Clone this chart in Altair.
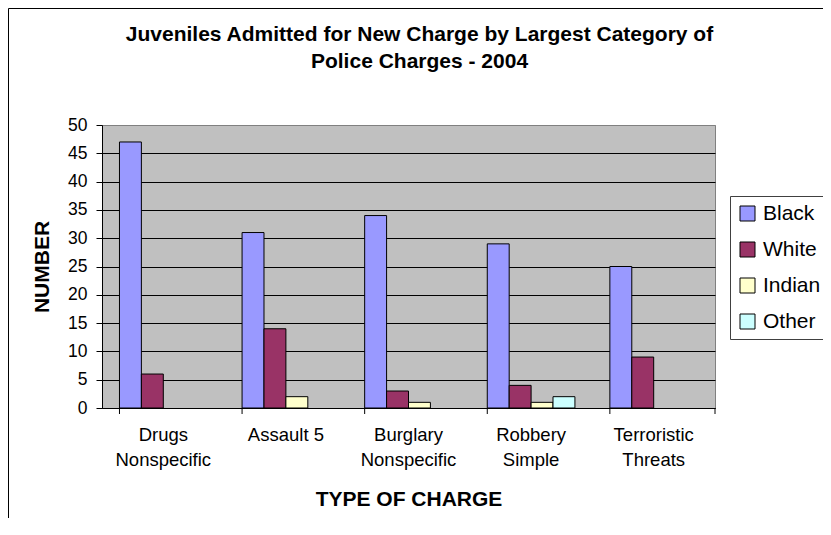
import altair as alt
import pandas as pd

categories = ["Drugs\nNonspecific", "Assault 5", "Burglary\nNonspecific", "Robbery\nSimple", "Terroristic\nThreats"]
races = ["Black", "White", "Indian", "Other"]
black = [47, 31, 34, 29, 25]
white = [6, 14, 3, 4, 9]
indian = [0, 2, 1, 1, 0]
other = [0, 0, 0, 2, 0]
colors = ["#9999FF", "#993366", "#FFFFCC", "#CCFFFF"]
y_ticks = [0, 5, 10, 15, 20, 25, 30, 35, 40, 45, 50]

rows = []
for i, c in enumerate(categories):
    for r, vals in zip(races, [black, white, indian, other]):
        rows.append({"charge": c, "race": r, "count": vals[i]})
df = pd.DataFrame(rows)
cat_df = pd.DataFrame({"charge": categories})

W, H = 613, 283
FONT = "Liberation Sans"
PAD_BOTTOM = 110
PAD_RIGHT = 108

x_enc = alt.X(
    "charge:N",
    sort=categories,
    title="TYPE OF CHARGE",
    scale=alt.Scale(domain=categories, paddingInner=0.285, paddingOuter=0.1425),
    axis=alt.Axis(
        labelExpr="split(datum.label, '\\n')",
        labelAngle=0,
        ticks=False,
        labelFontSize=18.5,
        labelLineHeight=25,
        labelPadding=17.5,
        labelColor="black",
        labelFont=FONT,
        domainColor="black",
        titleFont=FONT,
        titleFontSize=21,
        titleFontWeight="bold",
        titleColor="black",
        titlePadding=19.5,
        grid=False,
    ),
)

bars = alt.Chart(df).transform_filter("datum.count > 0").mark_bar(stroke="black", strokeWidth=1).encode(
    x=x_enc,
    xOffset=alt.XOffset("race:N", sort=races, scale=alt.Scale(domain=races, paddingInner=0, paddingOuter=0)),
    y=alt.Y(
        "count:Q",
        title="NUMBER",
        scale=alt.Scale(domain=[0, 50], nice=False),
        axis=alt.Axis(
            values=y_ticks,
            labelFontSize=17.5,
            labelFont=FONT,
            labelColor="black",
            labelPadding=9,
            tickSize=6,
            tickColor="black",
            domainColor="black",
            grid=True,
            gridColor={"condition": {"test": "datum.value == 50", "value": "#808080"}, "value": "black"},
            gridOpacity=1,
            titleFont=FONT,
            titleFontSize=21,
            titleFontWeight="bold",
            titleColor="black",
            titlePadding=15,
        ),
    ),
    color=alt.Color(
        "race:N",
        sort=races,
        scale=alt.Scale(domain=races, range=colors),
        legend=alt.Legend(
            title=None,
            orient="none",
            legendX=628,
            legendY=71,
            strokeColor="#404040",
            fillColor="white",
            padding=7,
            symbolType="square",
            symbolSize=225,
            symbolStrokeColor="black",
            symbolStrokeWidth=1,
            symbolOpacity=1,
            labelFont=FONT,
            labelFontSize=21,
            labelColor="black",
            labelOffset=5,
            rowPadding=14,
        ),
    ),
)

ticks = alt.Chart(cat_df).mark_rule(color="black").encode(
    x=alt.X("charge:N", sort=categories, bandPosition=0, title="TYPE OF CHARGE"),
    y=alt.value(H),
    y2=alt.value(H + 6),
)
end_tick = alt.Chart(cat_df.head(1)).mark_rule(color="black").encode(
    x=alt.value(W), y=alt.value(H), y2=alt.value(H + 6)
)
border_left = alt.Chart(cat_df.head(1)).mark_rule(color="black").encode(
    x=alt.value(-93.5), y=alt.value(-116.5), y2=alt.value(H + PAD_BOTTOM)
)
border_top = alt.Chart(cat_df.head(1)).mark_rule(color="black").encode(
    x=alt.value(-93.5), x2=alt.value(W + PAD_RIGHT), y=alt.value(-116.5)
)

chart = (
    alt.layer(bars, ticks, end_tick, border_left, border_top)
    .properties(
        width=W,
        height=H,
        autosize="none",
        padding={"left": 94, "top": 117, "right": PAD_RIGHT, "bottom": PAD_BOTTOM},
        title=alt.Title(
            ["Juveniles Admitted for New Charge by Largest Category of", "Police Charges - 2004"],
            font=FONT,
            fontSize=21,
            fontWeight="bold",
            color="black",
            lineHeight=27,
            anchor="middle",
            dx=11,
            offset=-63.5,
        ),
    )
    .configure_view(fill="#C0C0C0", stroke="#808080")
)

chart.save("out.html", embed_options={"renderer": "svg", "actions": False})
